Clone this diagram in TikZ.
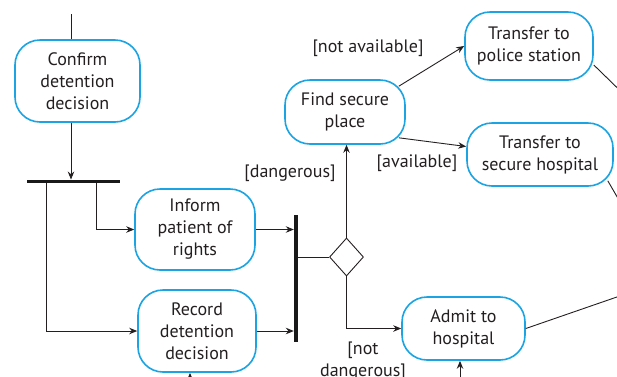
\documentclass[tikz,border=0pt]{standalone}
\usepackage{fontspec}
\setmainfont{PT Sans}
\usetikzlibrary{arrows.meta,shapes.geometric}
\definecolor{actblue}{RGB}{27,163,226}
\definecolor{flow}{RGB}{35,31,32}

\begin{document}
\begin{tikzpicture}[x=1pt,y=-1pt,
    activity/.style={draw=actblue,line width=1.6pt,rounded corners=25pt,align=center,inner sep=0pt,text=flow,font=\fontsize{18}{22}\selectfont},
    bar/.style={fill=black!90,inner sep=0pt},
    guard/.style={align=center,inner sep=0pt,text=flow,font=\fontsize{18}{22}\selectfont},
    flowline/.style={draw=flow,line width=0.9pt},
    arr/.style={flowline,-{Stealth[length=8pt,width=6.5pt]}}]
\useasboundingbox (0,0) rectangle (617,376);
\clip (0,0) rectangle (617,376);

\node[activity,minimum width=125pt,minimum height=82pt] (confirm) at (77.5,81) {Confirm\\detention\\decision};
\node[activity,minimum width=120pt,minimum height=81pt] (inform) at (195,229.5) {Inform\\patient of\\rights};
\node[activity,minimum width=118pt,minimum height=82pt] (record) at (197,331) {Record\\detention\\decision};
\node[activity,minimum width=120pt,minimum height=64pt] (find) at (345,112) {Find secure\\place};
\node[activity,minimum width=128pt,minimum height=68pt] (police) at (529,46) {Transfer to\\police station};
\node[activity,minimum width=146pt,minimum height=63pt] (hosp) at (540,154.5) {Transfer to\\secure hospital};
\node[activity,minimum width=123pt,minimum height=63pt] (admit) at (463.5,328.5) {Admit to\\hospital};

\node[bar,minimum width=93pt,minimum height=3.5pt] (fork) at (73.5,181.5) {};
\node[bar,minimum width=4pt,minimum height=127pt] (join) at (296,278.5) {};
\node[diamond,draw=flow,line width=0.9pt,inner sep=0pt,minimum width=34pt,minimum height=38pt] (dec) at (346.5,257) {};

\node[guard] (na) at (368,48) {[not available]};
\node[guard] (av) at (417,163) {[available]};
\node[guard] (dg) at (290,173) {[dangerous]};
\node[guard] (nd) at (363,361) {[not\\dangerous]};

\coordinate (s) at (71,14);
\coordinate (f1) at (96,0);
\coordinate (f2) at (46,0);
\coordinate (e1) at (640,110);
\coordinate (e2) at (627,214);
\coordinate (e3) at (640,289);
\coordinate (b1) at (190,395);
\coordinate (b2) at (460,395);

\draw[flowline] (s) -- (s |- confirm.north);
\draw[arr] (s |- confirm.south) -- (s |- fork.north);
\draw[arr] (f1 |- fork.south) |- (inform.west);
\draw[arr] (f2 |- fork.south) |- (record.west);
\draw[arr] (inform.east) -- (inform.east -| join.west);
\draw[arr] (record.east) -- (record.east -| join.west);
\draw[flowline] (join.east |- dec) -- (dec.west);
\draw[arr] (dec.north) -- (dec.north |- find.south);
\draw[arr] (dec.south) |- (admit.west);
\draw[arr] ([shift={(-7,7)}]find.north east) -- (police.west);
\draw[arr] ([shift={(-7,-7)}]find.south east) -- ([yshift=8pt]hosp.west);
\draw[flowline] ([yshift=-19pt]police.east) -- (e1);
\draw[flowline] ([shift={(-6,-6)}]hosp.south east) -- (e2);
\draw[flowline] (admit.east) -- (e3);
\draw[arr] (b1) -- (b1 |- record.south);
\draw[arr] (b2) -- (b2 |- admit.south);
\end{tikzpicture}
\end{document}
